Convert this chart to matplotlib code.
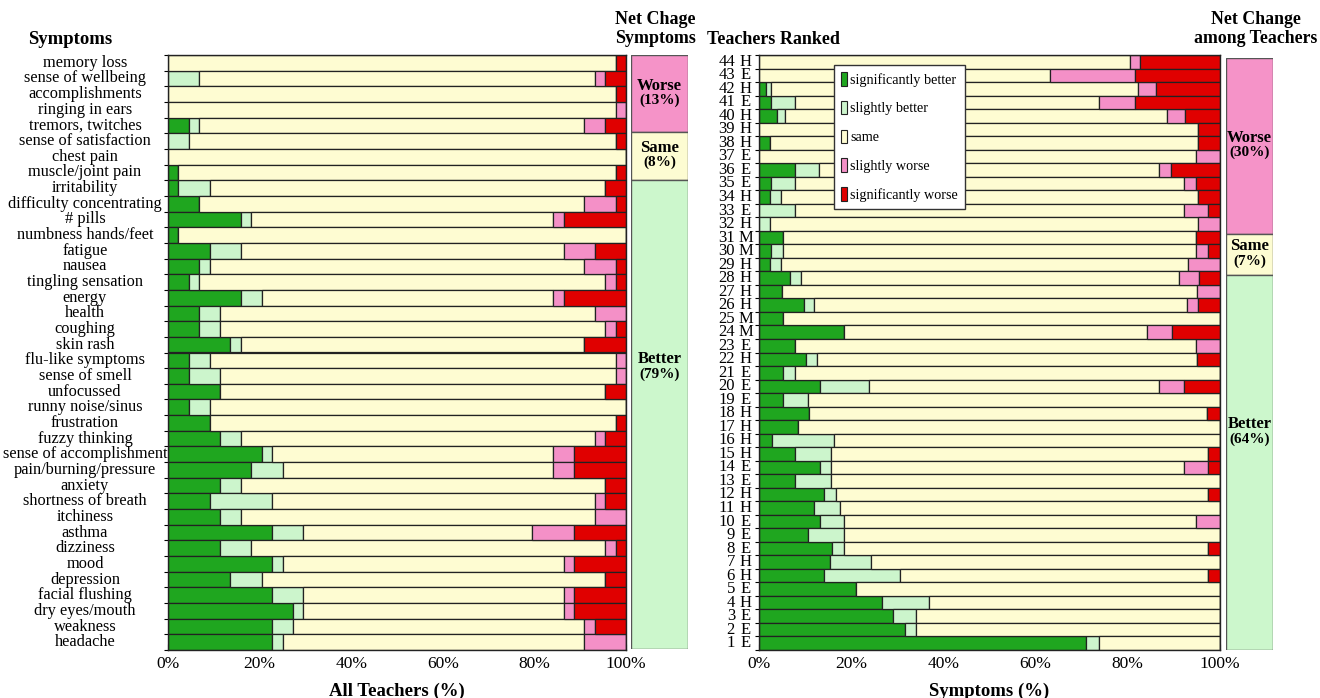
"""
Symptom change among teachers: by symptom (left) and by teacher (right)
"""
import numpy as np
import matplotlib
matplotlib.use('Agg')
import matplotlib.pyplot as plt
from matplotlib.patches import Patch
from matplotlib.ticker import MultipleLocator, PercentFormatter

plt.rcParams.update({
    'font.family': ['Liberation Serif', 'DejaVu Serif'],
    'font.size': 12,
    'axes.linewidth': 1.0,
    'axes.edgecolor': '#222222',
})

# ---- data: left panel, number of teachers (out of 44) per symptom ----
symptoms = ['memory loss', 'sense of wellbeing', 'accomplishments', 'ringing in ears',
            'tremors, twitches', 'sense of satisfaction', 'chest pain', 'muscle/joint pain',
            'irritability', 'difficulty concentrating', '# pills', 'numbness hands/feet',
            'fatigue', 'nausea', 'tingling sensation', 'energy', 'health', 'coughing',
            'skin rash', 'flu-like symptoms', 'sense of smell', 'unfocussed',
            'runny noise/sinus', 'frustration', 'fuzzy thinking', 'sense of accomplishment',
            'pain/burning/pressure', 'anxiety', 'shortness of breath', 'itchiness', 'asthma',
            'dizziness', 'mood', 'depression', 'facial flushing', 'dry eyes/mouth',
            'weakness', 'headache']
n_teachers = 44
sym_sig_better = [0, 0, 0, 0, 2, 0, 0, 1, 1, 3, 7, 1, 4, 3, 2, 7, 3, 3, 6, 2, 2, 5, 2, 4, 5,
                  9, 8, 5, 4, 5, 10, 5, 10, 6, 10, 12, 10, 10]
sym_sl_better = [0, 3, 0, 0, 1, 2, 0, 0, 3, 0, 1, 0, 3, 1, 1, 2, 2, 2, 1, 2, 3, 0, 2, 0, 2,
                 1, 3, 2, 6, 2, 3, 3, 1, 3, 3, 1, 2, 1]
sym_same = [43, 38, 43, 43, 37, 41, 44, 42, 38, 37, 29, 43, 31, 36, 39, 28, 36, 37, 33, 39,
            38, 37, 40, 39, 34, 27, 26, 35, 31, 34, 22, 34, 27, 33, 25, 25, 28, 29]
sym_sl_worse = [0, 1, 0, 1, 2, 0, 0, 0, 0, 3, 1, 0, 3, 3, 1, 1, 3, 1, 0, 1, 1, 0, 0, 0, 1,
                2, 2, 0, 1, 3, 4, 1, 1, 0, 1, 1, 1, 4]
sym_sig_worse = [1, 2, 1, 0, 2, 1, 0, 1, 2, 1, 6, 0, 3, 1, 1, 6, 0, 1, 4, 0, 0, 2, 0, 1, 2,
                 5, 5, 2, 2, 0, 5, 1, 5, 2, 5, 5, 3, 0]

# ---- data: right panel, % of symptoms per teacher (top row = teacher 44) ----
teacher_ids = list(range(44, 0, -1))
teacher_grp = ['H', 'E', 'H', 'E', 'H', 'H', 'H', 'E', 'E', 'E', 'H', 'E', 'H', 'M', 'M',
               'H', 'H', 'H', 'H', 'M', 'M', 'E', 'H', 'E', 'E', 'E', 'H', 'H', 'H', 'H',
               'E', 'E', 'H', 'H', 'E', 'E', 'E', 'H', 'H', 'E', 'H', 'E', 'E', 'E']
t_sig_better = [0, 0, 1.5, 2.7, 3.9, 0, 2.4, 0, 7.9, 2.7, 2.4, 0, 0, 5.3, 2.7, 2.4, 6.8,
                5.0, 9.7, 5.3, 18.5, 7.9, 10.2, 5.3, 13.2, 5.3, 10.9, 8.5, 2.8, 7.9, 13.2,
                7.9, 14.0, 11.9, 13.2, 10.7, 15.8, 15.3, 14.0, 21.1, 26.7, 29.0, 31.6, 70.9]
t_sl_better = [0, 0, 1.2, 5.2, 1.8, 0, 0, 0, 5.2, 5.2, 2.3, 7.9, 2.4, 0, 2.6, 2.3, 2.3,
               0, 2.3, 0, 0, 0, 2.4, 2.6, 10.6, 5.4, 0, 0, 13.4, 7.8, 2.5, 7.8, 2.6, 5.7,
               5.2, 7.7, 2.6, 9.0, 16.6, 0, 10.1, 5.1, 2.5, 2.8]
t_same = [80.5, 63.1, 79.5, 65.8, 82.8, 95.3, 92.9, 94.7, 73.7, 84.2, 90.5, 84.2, 92.8,
          89.4, 89.4, 88.3, 82.0, 90.0, 80.9, 94.7, 65.7, 86.8, 82.4, 92.1, 63.0, 89.3,
          86.3, 91.5, 83.8, 81.7, 76.4, 84.3, 80.8, 82.4, 76.3, 81.6, 79.0, 75.7, 66.8,
          78.9, 63.2, 65.9, 65.9, 26.3]
t_sl_worse = [2.2, 18.4, 4.0, 7.8, 3.8, 0, 0, 5.3, 2.5, 2.6, 0, 5.3, 4.8, 0, 2.7, 7.0, 4.4,
              5.0, 2.3, 0, 5.3, 5.3, 0, 0, 5.3, 0, 0, 0, 0, 0, 5.3, 0, 0, 0, 5.3, 0, 0, 0,
              0, 0, 0, 0, 0, 0]
t_sig_worse = [17.3, 18.5, 13.8, 18.5, 7.7, 4.7, 4.7, 0, 10.7, 5.3, 4.8, 2.6, 0, 5.3, 2.6,
               0, 4.5, 0, 4.8, 0, 10.5, 0, 5.0, 0, 7.9, 0, 2.8, 0, 0, 2.6, 2.6, 0, 2.6, 0,
               0, 0, 2.6, 0, 2.6, 0, 0, 0, 0, 0]

# ---- net change summary bars ----
net_labels = ['Worse', 'Same', 'Better']
net_sym = [13, 8, 79]
net_teach = [30, 7, 64]

cat_labels = ['significantly better', 'slightly better', 'same',
              'slightly worse', 'significantly worse']
cat_colors = ['#1fa61f', '#ccf5cc', '#fefcd2', '#f490c7', '#e00000']
net_colors = ['#f593c8', '#fdfcd2', '#ccf7cc']
EDGE = '#222222'

W, H = 1320, 698
fig = plt.figure(figsize=(W / 100, H / 100), dpi=100)


def rect(x0, y0, x1, y1):
    return [x0 / W, 1 - y1 / H, (x1 - x0) / W, (y1 - y0) / H]


def stacked(ax, series):
    n = len(series[0])
    y = np.arange(n)
    left = np.zeros(n)
    for vals, col in zip(series, cat_colors):
        vals = np.asarray(vals, dtype=float)
        ax.barh(y, vals, left=left, height=1.0, color=col,
                edgecolor=EDGE, linewidth=0.9, zorder=2)
        left += vals
    ax.set_xlim(0, 100)
    ax.set_ylim(n - 0.5, -0.5)
    ax.set_xticks(range(0, 101, 20))
    ax.xaxis.set_minor_locator(MultipleLocator(5))
    ax.xaxis.set_major_formatter(PercentFormatter(decimals=0))
    ax.tick_params(axis='x', which='both', direction='in', length=4, width=0.8,
                   labelsize=12.5, pad=4)
    ax.set_yticks(np.arange(-0.5, n, 1))
    ax.set_yticklabels([])
    ax.tick_params(axis='y', direction='out', length=3, width=0.8)
    for sp in ax.spines.values():
        sp.set_zorder(3)


def net_bar(ax, vals, text_pos):
    bottom = 0
    for v, col, lab, f in zip(vals, net_colors, net_labels, text_pos):
        ax.bar(0, v, bottom=bottom, width=1.0, color=col, edgecolor='#555555', linewidth=1)
        yc = bottom + f * v
        ax.text(0, yc, lab, ha='center', va='bottom', fontsize=12, fontweight='bold')
        ax.text(0, yc, f'({v}%)', ha='center', va='top', fontsize=11, fontweight='bold',
                linespacing=1.6)
        bottom += v
    ax.set_xlim(-0.5, 0.5)
    ax.set_ylim(sum(vals), 0)
    ax.axis('off')


# left panel
ax1 = fig.add_axes(rect(168, 55, 626, 650))
cnt = [sym_sig_better, sym_sl_better, sym_same, sym_sl_worse, sym_sig_worse]
stacked(ax1, [np.array(c) / n_teachers * 100 for c in cnt])
for i, s in enumerate(symptoms):
    ax1.text((85 - 168) / (626 - 168), i, s, transform=ax1.get_yaxis_transform(),
             ha='center', va='center', fontsize=11.8)
ax1.set_xlabel('All Teachers (%)', fontsize=13.5, fontweight='bold', labelpad=8)

axn1 = fig.add_axes(rect(631, 55, 688, 649))
net_bar(axn1, net_sym, [0.5, 0.5, 0.4])

# right panel
ax2 = fig.add_axes(rect(759, 55, 1220, 650))
stacked(ax2, [t_sig_better, t_sl_better, t_same, t_sl_worse, t_sig_worse])
for i, (num, g) in enumerate(zip(teacher_ids, teacher_grp)):
    ax2.text((735 - 759) / 461, i, str(num), transform=ax2.get_yaxis_transform(),
             ha='right', va='center', fontsize=12)
    ax2.text((746 - 759) / 461, i, g, transform=ax2.get_yaxis_transform(),
             ha='center', va='center', fontsize=12)
ax2.set_xlabel('Symptoms (%)', fontsize=13.5, fontweight='bold', labelpad=8)

axn2 = fig.add_axes(rect(1226, 58, 1273, 650))
net_bar(axn2, net_teach, [0.5, 0.5, 0.42])

# legend
handles = [Patch(facecolor=c, edgecolor='#222222', linewidth=0.8) for c in cat_colors]
leg = ax2.legend(handles, cat_labels, loc='upper left',
                 bbox_to_anchor=(834 / W, 1 - 65 / H), bbox_transform=fig.transFigure,
                 fontsize=10.2, handlelength=0.45, handleheight=1.1, handletextpad=0.2,
                 labelspacing=1.0, borderpad=0.5, borderaxespad=0, fancybox=False,
                 framealpha=1, edgecolor='#333333')
leg.get_frame().set_linewidth(1)
leg.set_zorder(5)

# headings
fig.text(70 / W, 1 - 40 / H, 'Symptoms', ha='center', va='center', fontsize=13.5,
         fontweight='bold')
fig.text(655 / W, 1 - 29 / H, 'Net Chage\nSymptoms', ha='center', va='center',
         fontsize=13, fontweight='bold', linespacing=1.2)
fig.text(707 / W, 1 - 40 / H, 'Teachers Ranked', ha='left', va='center', fontsize=13,
         fontweight='bold')
fig.text(1256 / W, 1 - 29 / H, 'Net Change\namong Teachers', ha='center', va='center',
         fontsize=12.8, fontweight='bold', linespacing=1.2)

fig.savefig('out.png', dpi=100, facecolor='white')
